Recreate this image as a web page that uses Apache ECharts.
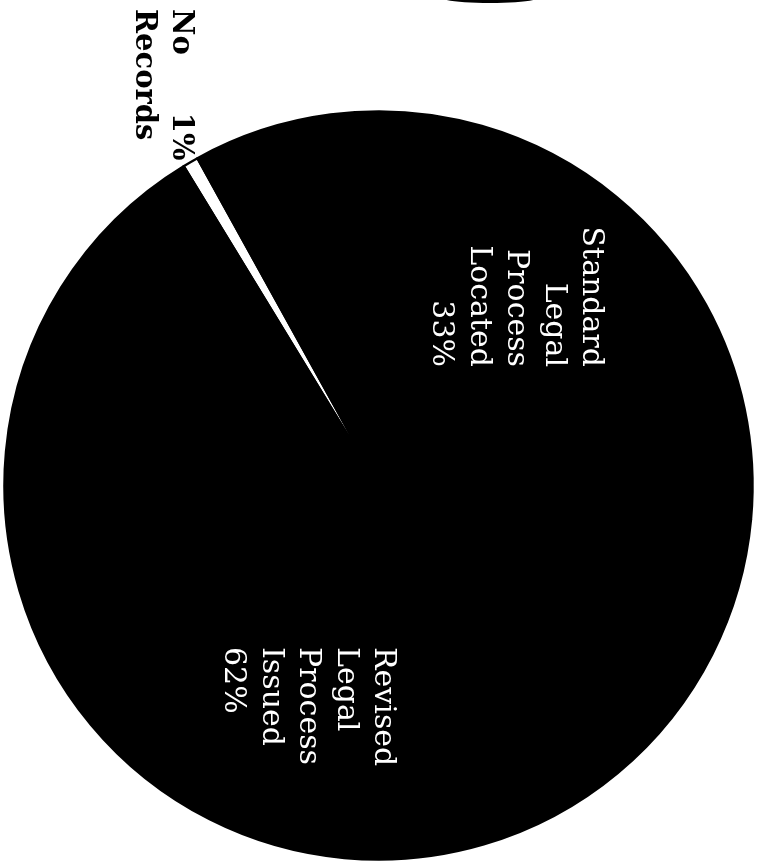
<!DOCTYPE html>
<html><head><meta charset="utf-8">
<script src="https://cdn.jsdelivr.net/npm/echarts@6/dist/echarts.min.js"></script>
<style>html,body{margin:0;padding:0;background:#fff}#c{width:760px;height:867px}</style>
</head><body><div id="c"></div>
<script>
// ---- data ----
const categories = ['No Records', 'Standard Legal Process Located', 'Revised Legal Process Issued'];
const labelWords = [['No', 'Records'], ['Standard', 'Legal', 'Process', 'Located'], ['Revised', 'Legal', 'Process', 'Issued']];
const values = [0.65, 33, 62];
const pctLabels = ['1%', '33%', '62%'];

// ---- styling / layout (not data) ----
const sliceColors = ['#ffffff', '#000000', '#000000'];
const labelAnchors = [
  { x: 162, y: 9, align: 'left' },
  { x: 516, y: 367, align: 'right' },
  { x: 308, y: 647, align: 'left' }
];

const chart = echarts.init(document.getElementById('c'), null, { renderer: 'canvas' });

const seriesData = categories.map((name, i) => {
  const isNoRec = i === 0;
  return {
    name: name,
    value: values[i],
    itemStyle: { color: sliceColors[i] },
    label: isNoRec ? {
      color: '#000',
      formatter: '{b|' + labelWords[i][0] + '}{g| }{b|' + pctLabels[i] + '}\n{b|' + labelWords[i][1] + '}',
      rich: {
        b: { fontFamily: 'DejaVu Serif', fontWeight: 'bold', fontSize: 29, lineHeight: 37, color: '#000' },
        g: { width: 58, fontSize: 29, lineHeight: 37 }
      }
    } : {
      color: '#fff',
      fontFamily: 'DejaVu Serif',
      fontSize: 30,
      lineHeight: 37.5,
      formatter: labelWords[i].concat([pctLabels[i]]).join('\n')
    }
  };
});

chart.setOption({
  backgroundColor: '#ffffff',
  animation: false,
  graphic: [{
    type: 'ellipse',
    shape: { cx: 490, cy: -3, rx: 50, ry: 6 },
    style: { fill: '#000' },
    silent: true
  }],
  series: [{
    type: 'pie',
    center: [378.5, 485.5],
    radius: [0, 374],
    startAngle: 121.4,
    clockwise: true,
    avoidLabelOverlap: false,
    silent: true,
    itemStyle: { borderColor: '#000', borderWidth: 2.5 },
    label: { show: true, position: 'inside', rotate: -90 },
    labelLine: { show: false },
    labelLayout: function (p) {
      const a = labelAnchors[p.dataIndex];
      return { x: a.x, y: a.y, align: a.align, verticalAlign: 'middle', rotate: -90 };
    },
    emphasis: { disabled: true },
    data: seriesData
  }]
});
</script>
</body></html>
